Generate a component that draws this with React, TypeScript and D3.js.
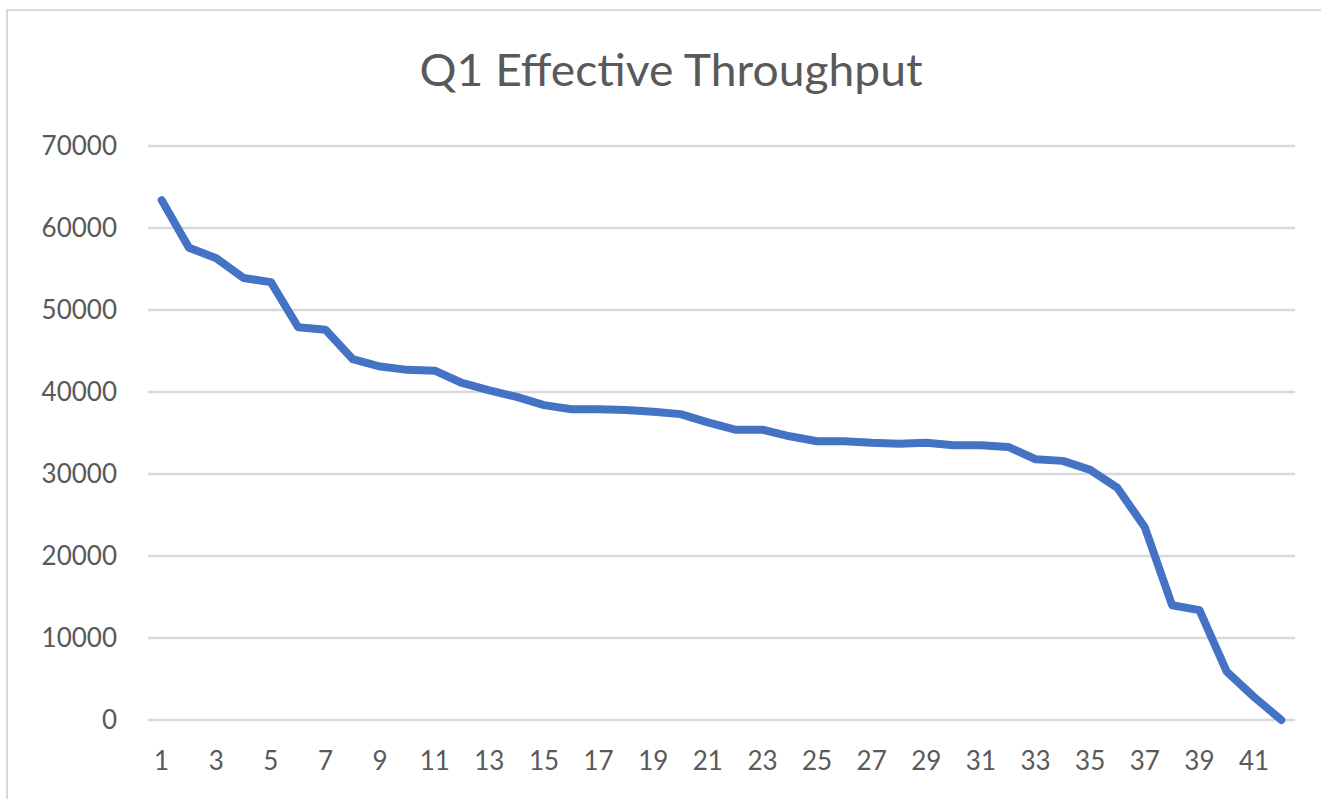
import React from "react";
import { scaleBand, scaleLinear, line } from "d3";

const runs = Array.from({ length: 42 }, (_, i) => String(i + 1));
const throughput = [
  63400, 57600, 56300, 53900, 53400, 47900, 47600, 44000, 43100, 42700,
  42600, 41100, 40200, 39400, 38400, 37900, 37900, 37800, 37600, 37300,
  36300, 35400, 35400, 34600, 34000, 34000, 33800, 33700, 33800, 33500,
  33500, 33300, 31800, 31600, 30500, 28300, 23500, 14000, 13400, 5900,
  2800, 0,
];
const yTicks = [0, 10000, 20000, 30000, 40000, 50000, 60000, 70000];

const W = 1321;
const H = 799;
const font = "Lato, 'Open Sans', sans-serif";
const textColor = "#595959";

const App = () => {
  const x = scaleBand().domain(runs).range([148, 1295]);
  const y = scaleLinear().domain([0, 70000]).range([720, 146]);
  const cx = (d: string) => (x(d) as number) + x.bandwidth() / 2;

  const path = line<number>()
    .x((_, i) => cx(runs[i]))
    .y((d) => y(d));

  return (
    <svg
      width={W}
      height={H}
      style={{ position: "absolute", left: 0, top: 0, background: "#fff" }}
    >
      <rect x={7} y={10} width={W + 20} height={H + 20} fill="#fff" stroke="#d9d9d9" strokeWidth={2} />
      <text
        x={671}
        y={86}
        textAnchor="middle"
        fontFamily={font}
        fontSize={45}
        textLength={503}
        lengthAdjust="spacingAndGlyphs"
        fill={textColor}
      >
        Q1 Effective Throughput
      </text>

      {/* gridlines and y labels */}
      {yTicks.map((t) => (
        <g key={t}>
          <line x1={148} x2={1295} y1={y(t)} y2={y(t)} stroke="#d9d9d9" strokeWidth={2.5} />
          <text
            x={117}
            y={y(t)}
            dy="0.36em"
            textAnchor="end"
            fontFamily={font}
            fontSize={26}
            fill={textColor}
          >
            {t}
          </text>
        </g>
      ))}

      {/* x labels, every other one */}
      {runs
        .filter((_, i) => i % 2 === 0)
        .map((d) => (
          <text
            key={d}
            x={cx(d)}
            y={770}
            textAnchor="middle"
            fontFamily={font}
            fontSize={26}
            fill={textColor}
          >
            {d}
          </text>
        ))}

      <path
        d={path(throughput) || ""}
        fill="none"
        stroke="#4472C4"
        strokeWidth={8}
        strokeLinejoin="round"
        strokeLinecap="round"
      />
    </svg>
  );
};

export default App;
